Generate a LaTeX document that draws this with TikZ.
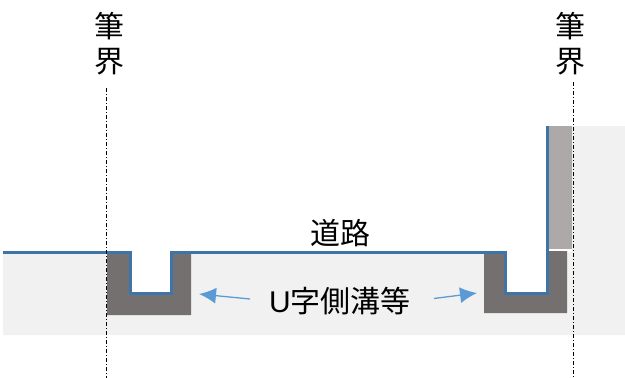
\documentclass[tikz,border=0pt]{standalone}
\usepackage{fontspec}
\setmainfont{Liberation Sans}
\newfontfamily\cjk{Noto Sans CJK JP}
\definecolor{bgc}{HTML}{F1F1F1}
\definecolor{wallc}{HTML}{ADA9A9}
\definecolor{concc}{HTML}{757070}
\definecolor{roadc}{HTML}{3F74A8}
\definecolor{arrowc}{HTML}{5B9BD5}
\usetikzlibrary{arrows.meta}
\tikzset{
  lbl/.style={font=\fontsize{30}{32}\selectfont, inner sep=0pt, text=black},
  kanji/.style={font=\fontsize{30}{32}\selectfont\cjk, inner sep=0pt, text=black},
  boundary/.style={line width=1pt, dash pattern=on 4pt off 2pt on 1pt off 2pt, black},
  road/.style={line width=3pt, roadc, line join=miter},
  pointer/.style={line width=1.3pt, arrowc, -{Latex[length=17pt,width=16pt]}}
}
\begin{document}
\begin{tikzpicture}[x=1pt,y=-1pt]
\useasboundingbox (0,0) rectangle (625,378);
% ground
\fill[bgc] (3,252) -- (572,252) -- (572,126) -- (625,126) -- (625,335) -- (3,335) -- cycle;
\fill[white] (130,252) rectangle (170,292);
\fill[white] (505,252) rectangle (547,292);
% wall
\fill[wallc] (547,126) rectangle (572,249);
% gutters
\fill[concc] (107,252) -- (130,252) -- (130,293) -- (170,293) -- (170,252) -- (191,252) -- (191,315) -- (107,315) -- cycle;
\fill[concc] (484,252) -- (505,252) -- (505,293) -- (547,293) -- (547,251) -- (567,251) -- (567,313) -- (484,313) -- cycle;
% road surface
\draw[road] (3,252) -- (130,252) -- (130,293) -- (171,293) -- (171,252) -- (505,252) -- (505,293) -- (547,293) -- (547,126);
% boundaries
\node[kanji] (a1) at (109,26) {筆};
\node[kanji] (a2) at (109,62) {界};
\node[kanji] (b1) at (570,26) {筆};
\node[kanji] (b2) at (570,62) {界};
\coordinate (a3) at (106,378);
\coordinate (b3) at (573,378);
\coordinate (a0) at (106,88);
\coordinate (b0) at (573,82);
\draw[boundary] (a0) -- (a3);
\draw[boundary] (b0) -- (b3);
% labels
\node[kanji] (road) at (340,233) {道路};
\node[lbl] (gut) at (340,301) {U{\cjk 字側溝等}};
\coordinate (ga) at (199,294);
\coordinate (gb) at (477,293);
\coordinate (gat) at (250,299);
\coordinate (gbt) at (434,298.5);
\draw[pointer] (gat) -- (ga);
\draw[pointer] (gbt) -- (gb);
\end{tikzpicture}
\end{document}
